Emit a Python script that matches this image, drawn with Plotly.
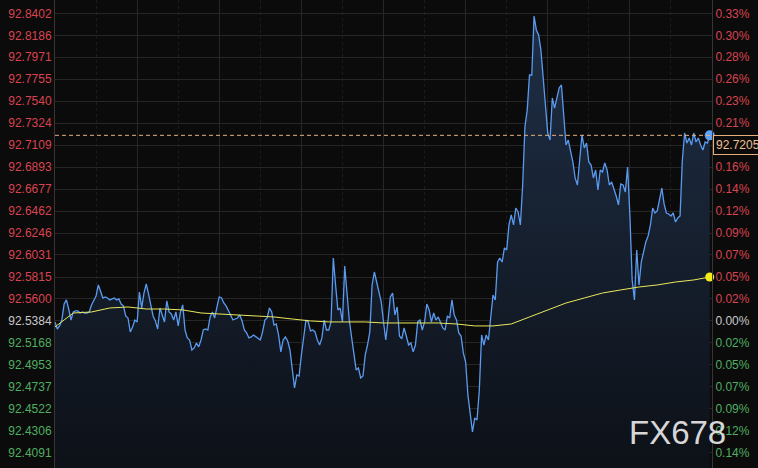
import plotly.graph_objects as go

# ---- data (5-minute closes) ----
price = [
    92.5374, 92.5305, 92.5335, 92.5393, 92.5550, 92.5590, 92.5501, 92.5393, 92.5472, 92.5482,
    92.5482, 92.5462, 92.5472, 92.5462, 92.5462, 92.5472, 92.5541, 92.5590, 92.5629, 92.5737,
    92.5668, 92.5609, 92.5619, 92.5609, 92.5590, 92.5600, 92.5609, 92.5590, 92.5600, 92.5550,
    92.5531, 92.5433, 92.5413, 92.5276, 92.5325, 92.5393, 92.5374, 92.5668, 92.5511, 92.5658,
    92.5747, 92.5649, 92.5531, 92.5433, 92.5384, 92.5305, 92.5511, 92.5433, 92.5374, 92.5580,
    92.5472,
    92.5452, 92.5393, 92.5472, 92.5335, 92.5472, 92.5541, 92.5295, 92.5217, 92.5197, 92.5099,
    92.5119, 92.5168, 92.5129, 92.5197, 92.5295, 92.5305, 92.5295, 92.5423, 92.5472, 92.5413,
    92.5521, 92.5619, 92.5609, 92.5560, 92.5531, 92.5482, 92.5433, 92.5393, 92.5403, 92.5413,
    92.5443, 92.5384, 92.5295, 92.5266, 92.5217, 92.5227, 92.5246, 92.5227, 92.5207, 92.5197,
    92.5276, 92.5393, 92.5413, 92.5511, 92.5472, 92.5344, 92.5354, 92.5246, 92.5080, 92.5197,
    92.5227, 92.5187, 92.5099, 92.4903, 92.4726, 92.4854, 92.4844,
    92.5050, 92.5246, 92.5393, 92.5374, 92.5286, 92.5295, 92.5276, 92.5197, 92.5148, 92.5217,
    92.5393, 92.5295, 92.5295, 92.5374, 92.6002, 92.5737, 92.5492, 92.5511, 92.5374, 92.5923,
    92.5639, 92.5393, 92.5227, 92.5050, 92.4903, 92.4923, 92.4824, 92.4844, 92.5050, 92.5148,
    92.5276, 92.5737, 92.5864, 92.5766, 92.5668, 92.5570, 92.5374, 92.5197, 92.5393, 92.5619,
    92.5658, 92.5443, 92.5521, 92.5236, 92.5207, 92.5315, 92.5236, 92.5148,
    92.5168, 92.5080, 92.5148, 92.5374, 92.5393, 92.5295, 92.5374, 92.5550, 92.5492, 92.5374,
    92.5462, 92.5393, 92.5423, 92.5374, 92.5315, 92.5295, 92.5433, 92.5413, 92.5590, 92.5443,
    92.5393, 92.5266, 92.5236, 92.5070, 92.4981, 92.4658, 92.4491, 92.4295, 92.4432, 92.4412,
    92.4707, 92.5246, 92.5148, 92.5246, 92.5197, 92.5443, 92.5639, 92.5590, 92.5962, 92.6002,
    92.5962, 92.6100, 92.6080,
    92.6326, 92.6424, 92.6326, 92.6492, 92.6453, 92.6326, 92.6718, 92.7287, 92.7454, 92.7797,
    92.7797, 92.8376, 92.8239, 92.8190, 92.8042, 92.7797, 92.7503, 92.7228, 92.7159, 92.7572,
    92.7473, 92.7572, 92.7670, 92.7699, 92.7405, 92.7110, 92.7159, 92.7061, 92.6944, 92.6787,
    92.6718, 92.6963, 92.7209, 92.7081, 92.7130, 92.6944, 92.6914, 92.6787, 92.6865, 92.6669,
    92.6865, 92.6845, 92.6934, 92.6865, 92.6718, 92.6747, 92.6688, 92.6610, 92.6522, 92.6728,
    92.6718, 92.6649, 92.6895,
    92.6424, 92.5786, 92.5590, 92.6080, 92.5737, 92.5962, 92.6061, 92.6159, 92.6218, 92.6326,
    92.6492, 92.6443, 92.6463, 92.6590, 92.6688, 92.6532, 92.6443, 92.6433, 92.6414, 92.6443,
    92.6355, 92.6394, 92.6414, 92.6963, 92.7228, 92.7130, 92.7179, 92.7110, 92.7228, 92.7140,
    92.7179, 92.7110, 92.7061, 92.7140, 92.7130, 92.7205,
]

# moving-average line, sampled every 8th bar plus the last bar
ma_idx = list(range(0, 288, 8)) + [287]
ma = [
    92.5325, 92.5462, 92.5472, 92.5511, 92.5521, 92.5501, 92.5501, 92.5492, 92.5462, 92.5452,
    92.5443, 92.5433, 92.5423, 92.5403, 92.5384, 92.5374, 92.5374, 92.5374, 92.5364, 92.5364,
    92.5364, 92.5364, 92.5354, 92.5335, 92.5335, 92.5354, 92.5423, 92.5492, 92.5560, 92.5609,
    92.5658, 92.5688, 92.5717, 92.5737, 92.5766, 92.5786, 92.5815,
]

base_price = 92.5384
last_price_label = "92.7205"

left_tick_labels = [
    "92.8402", "92.8186", "92.7971", "92.7755", "92.7540", "92.7324", "92.7109",
    "92.6893", "92.6677", "92.6462", "92.6246", "92.6031", "92.5815", "92.5600",
    "92.5384", "92.5168", "92.4953", "92.4737", "92.4522", "92.4306", "92.4091",
]
right_tick_labels = [
    "0.33%", "0.30%", "0.28%", "0.26%", "0.23%", "0.21%", "0.19%",
    "0.16%", "0.14%", "0.12%", "0.09%", "0.07%", "0.05%", "0.02%",
    "0.00%", "0.02%", "0.05%", "0.07%", "0.09%", "0.12%", "0.14%",
]

BAR_MIN = 5
SESSION_MIN = 1440

# ---- styling ----
BG = "#0b0b0b"
UP = "#d9434f"
DOWN = "#4fae62"
FLAT = "#c8c8c8"
GRID = "#262626"
AXLINE = "#3a3434"
BLUE = "#5a9bf0"
YELLOW = "#e9e85c"
FONT = "Arial, Liberation Sans, sans-serif"

x = [i * BAR_MIN for i in range(len(price))]
ma_x = [x[i] for i in ma_idx]
tickvals = [float(s) for s in left_tick_labels]


def colored(labels):
    out = []
    for s, v in zip(labels, tickvals):
        c = UP if v > base_price + 1e-9 else (FLAT if abs(v - base_price) < 1e-9 else DOWN)
        out.append(f'<span style="color:{c}">{s}</span>')
    return out


yrange = [92.3941, 92.8533]

fig = go.Figure()
fig.add_trace(go.Scatter(
    x=x, y=price, mode="lines",
    line=dict(color=BLUE, width=1.3),
    fill="tozeroy",
    fillgradient=dict(type="vertical",
                      colorscale=[[0, "#0d1118"], [1, "#1f2f47"]],
                      start=92.40, stop=92.84),
    hoverinfo="skip", showlegend=False,
))
fig.add_trace(go.Scatter(
    x=ma_x, y=ma, mode="lines",
    line=dict(color=YELLOW, width=1),
    hoverinfo="skip", showlegend=False,
))
fig.add_trace(go.Scatter(
    x=[x[-1]], y=[price[-1]], mode="markers",
    marker=dict(color="#5ea2f5", size=10),
    cliponaxis=False, hoverinfo="skip", showlegend=False,
))
fig.add_trace(go.Scatter(
    x=[ma_x[-1]], y=[ma[-1]], mode="markers",
    marker=dict(color="#f5ea1a", size=9),
    cliponaxis=False, hoverinfo="skip", showlegend=False, yaxis="y2",
))

fig.add_shape(type="line", xref="paper", x0=0, x1=1, yref="y",
              y0=float(last_price_label), y1=float(last_price_label),
              line=dict(color="#e6b07a", width=1, dash="4px,3px"), layer="above")

fig.add_annotation(
    xref="paper", x=1.0, xanchor="left", xshift=1,
    yref="y", y=float(last_price_label), yanchor="top", yshift=0,
    text=last_price_label, showarrow=False,
    font=dict(family=FONT, size=12, color="#f0c090"),
    bgcolor=BG, bordercolor="#e6b07a", borderwidth=1, borderpad=2,
)
fig.add_annotation(
    xref="paper", x=(728 - 55) / 657, xanchor="right",
    yref="paper", y=1 - 432 / 468, yanchor="middle",
    text="FX678", showarrow=False,
    font=dict(family=FONT, size=33, color="rgba(235,235,235,0.92)"),
)

fig.update_layout(
    width=758, height=468,
    margin=dict(l=55, r=46, t=0, b=0, pad=0),
    paper_bgcolor=BG, plot_bgcolor=BG,
    font=dict(family=FONT, size=12, color=FLAT),
    hovermode=False,
    xaxis=dict(range=[0, SESSION_MIN], showticklabels=False, ticks="",
               tick0=0, dtick=180, showgrid=True, gridcolor=GRID, gridwidth=1,
               zeroline=False, showline=False,
               minor=dict(dtick=90, tick0=0, showgrid=True, griddash="dot",
                          gridcolor="#1c1c1c", gridwidth=1)),
    yaxis=dict(range=yrange, tickmode="array", tickvals=tickvals,
               ticktext=colored(left_tick_labels), ticks="",
               showgrid=True, gridcolor=GRID, gridwidth=1, zeroline=False,
               showline=True, linecolor=AXLINE, linewidth=1,
               tickfont=dict(family=FONT, size=12)),
    yaxis2=dict(range=yrange, overlaying="y", side="right", tickmode="array",
                tickvals=tickvals, ticktext=colored(right_tick_labels), ticks="",
                showgrid=False, zeroline=False, showline=True,
                linecolor=AXLINE, linewidth=1,
                tickfont=dict(family=FONT, size=12)),
)

fig.write_html(
    "out.html",
    config={"displayModeBar": False},
    post_script="document.body.style.margin='0';document.body.style.background='#0b0b0b';",
)
